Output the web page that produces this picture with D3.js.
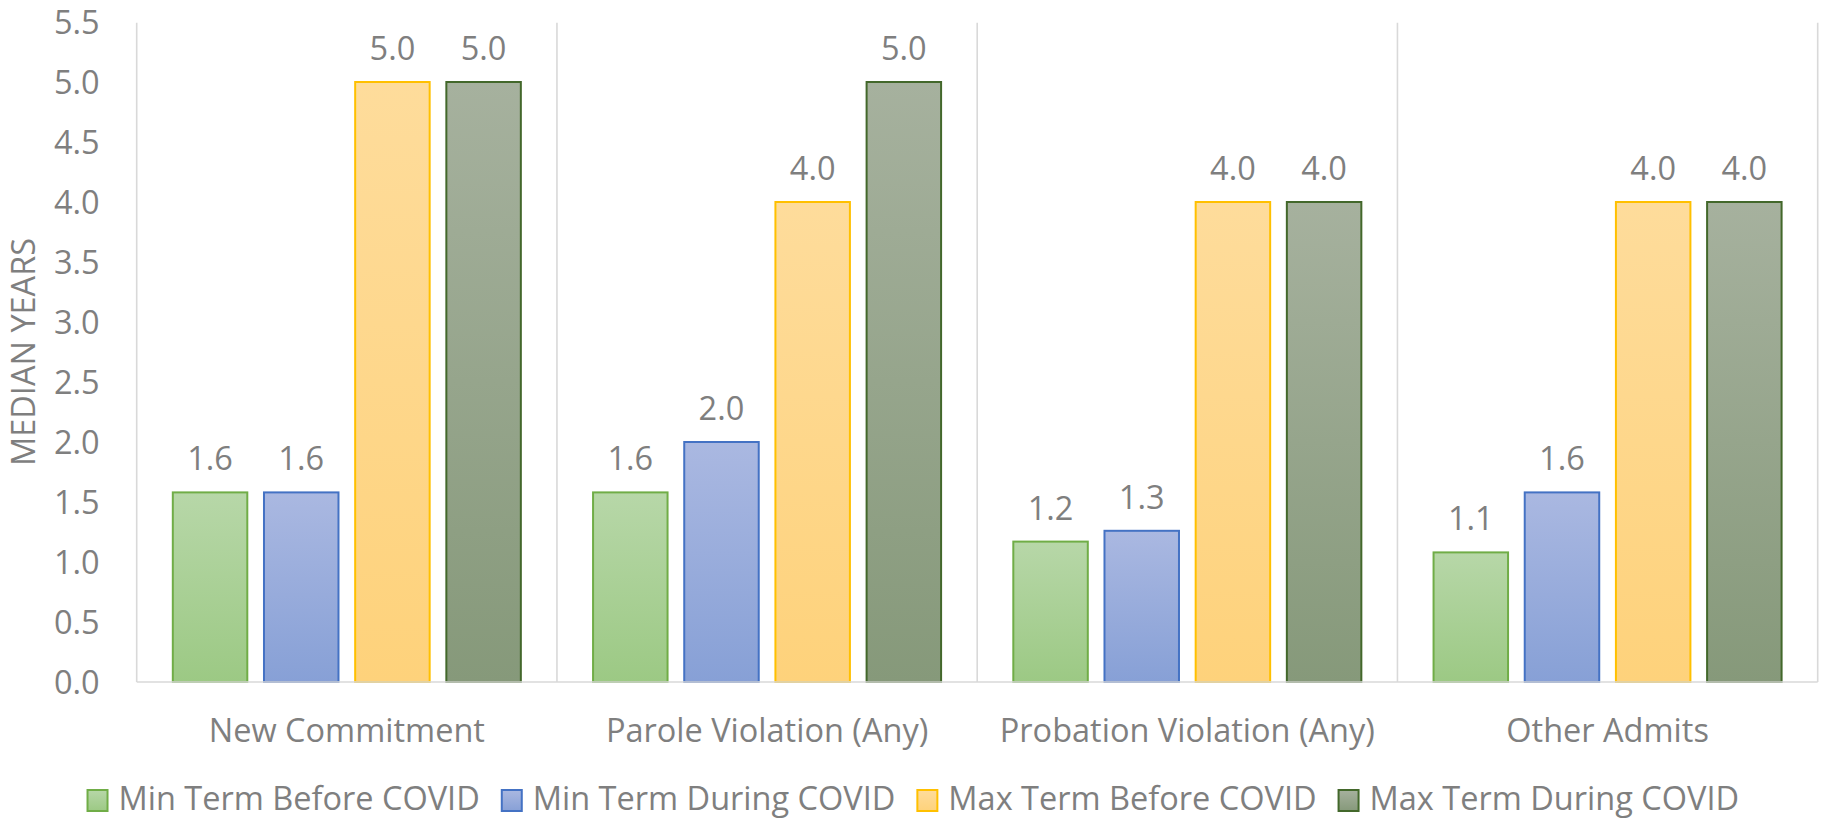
<!DOCTYPE html>
<html>
<head>
<meta charset="utf-8">
<script src="https://cdn.jsdelivr.net/npm/d3@7"></script>
<style>
  html, body { margin: 0; padding: 0; background: #ffffff; }
  svg { display: block; }
  text { font-family: "Open Sans", "Noto Sans", sans-serif; fill: #7f7f7f; }
</style>
</head>
<body>
<svg id="chart" width="1821" height="820"></svg>
<script>
// ---- Data ----
const categories = ["New Commitment", "Parole Violation (Any)", "Probation Violation (Any)", "Other Admits"];
const seriesNames = ["Min Term Before COVID", "Min Term During COVID", "Max Term Before COVID", "Max Term During COVID"];
const minBefore = [1.58, 1.58, 1.17, 1.08];
const minDuring = [1.58, 2.0, 1.26, 1.58];
const maxBefore = [5.0, 4.0, 4.0, 4.0];
const maxDuring = [5.0, 5.0, 4.0, 4.0];
const yTicks = [0, 0.5, 1, 1.5, 2, 2.5, 3, 3.5, 4, 4.5, 5, 5.5];
const yTitle = "MEDIAN YEARS";

const seriesValues = [minBefore, minDuring, maxBefore, maxDuring];
const strokeColors = ["#70ad47", "#4472c4", "#ffc000", "#43682b"];
const gradTop = ["#b7d7a8", "#aab8e1", "#fedc9b", "#a6b19e"];
const gradBottom = ["#9cc984", "#87a0d6", "#fed27b", "#86997a"];

// ---- Layout ----
const W = 1821, H = 820;
const plot = { left: 136.7, right: 1817.7, top: 22, bottom: 682 };

const svg = d3.select("#chart");

// gradients
const defs = svg.append("defs");
seriesNames.forEach((s, i) => {
  const g = defs.append("linearGradient")
    .attr("id", "grad" + i)
    .attr("x1", 0).attr("y1", 0).attr("x2", 0).attr("y2", 1);
  g.append("stop").attr("offset", "0%").attr("stop-color", gradTop[i]);
  g.append("stop").attr("offset", "100%").attr("stop-color", gradBottom[i]);
});

const x0 = d3.scaleBand().domain(categories).range([plot.left, plot.right]).padding(0);
const x1 = d3.scaleBand().domain(d3.range(seriesNames.length))
  .range([0, x0.bandwidth()]).paddingInner(0.183).paddingOuter(0.396);
const y = d3.scaleLinear().domain([0, 5.5]).range([plot.bottom, plot.top]);

const grid = "#d9d9d9";

// vertical category separators (incl. left & right edges)
const seps = categories.map(c => x0(c)).concat([plot.right]);
svg.append("g").selectAll("line").data(seps).join("line")
  .attr("x1", d => d).attr("x2", d => d)
  .attr("y1", plot.top + 0.7).attr("y2", plot.bottom)
  .attr("stroke", grid).attr("stroke-width", 1.6);

// y axis tick labels
const yAxis = d3.axisLeft(y).tickValues(yTicks).tickFormat(d3.format(".1f")).tickSize(0).tickPadding(37);
const yg = svg.append("g").attr("transform", `translate(${plot.left},0)`).call(yAxis);
yg.select(".domain").remove();
yg.selectAll("text")
  .style("font-size", "32.5px")
  .style("font-family", "'Open Sans', sans-serif")
  .attr("fill", "#7f7f7f")
  .attr("dy", "0.36em");

// bars
const groups = svg.append("g").selectAll("g").data(categories).join("g")
  .attr("transform", c => `translate(${x0(c)},0)`);

groups.each(function(c, ci) {
  const g = d3.select(this);
  seriesValues.forEach((vals, si) => {
    const v = vals[ci];
    g.append("rect")
      .attr("x", x1(si))
      .attr("y", y(v))
      .attr("width", x1.bandwidth())
      .attr("height", y(0) - y(v))
      .attr("fill", `url(#grad${si})`)
      .attr("stroke", strokeColors[si])
      .attr("stroke-width", 2);
    g.append("text")
      .attr("x", x1(si) + x1.bandwidth() / 2)
      .attr("y", y(v) - 22)
      .attr("text-anchor", "middle")
      .style("font-size", "32.5px")
      .text(d3.format(".1f")(v));
  });
});

// baseline (x axis line)
svg.append("line")
  .attr("x1", plot.left).attr("x2", plot.right)
  .attr("y1", plot.bottom).attr("y2", plot.bottom)
  .attr("stroke", grid).attr("stroke-width", 1.6);

// category labels
const xAxis = d3.axisBottom(x0).tickSize(0).tickPadding(0);
const xg = svg.append("g").attr("transform", `translate(0,${plot.bottom})`).call(xAxis);
xg.select(".domain").remove();
xg.selectAll("text")
  .style("font-size", "32.5px")
  .style("font-family", "'Open Sans', sans-serif")
  .attr("fill", "#7f7f7f")
  .attr("dy", null)
  .attr("y", 59.7);

// y axis title
svg.append("text")
  .attr("transform", `translate(35,${(plot.top + plot.bottom) / 2}) rotate(-90)`)
  .attr("text-anchor", "middle")
  .style("font-size", "32.5px")
  .text(yTitle);

// legend
const legend = svg.append("g");
const items = legend.selectAll("g").data(seriesNames).join("g");
items.append("rect")
  .attr("width", 20).attr("height", 21)
  .attr("y", 790)
  .attr("fill", (d, i) => `url(#grad${i})`)
  .attr("stroke", (d, i) => strokeColors[i])
  .attr("stroke-width", 2);
items.append("text")
  .attr("x", 31).attr("y", 810)
  .style("font-size", "32.5px")
  .text(d => d);
let cx = 0;
const pos = [];
items.each(function() {
  pos.push(cx);
  const tw = d3.select(this).select("text").node().getComputedTextLength();
  cx += 31 + tw + 22;
});
const total = cx - 22;
const startX = (83.3 + 1743.3) / 2 - total / 2;
items.attr("transform", (d, i) => `translate(${startX + pos[i]},0)`);
</script>
</body>
</html>
